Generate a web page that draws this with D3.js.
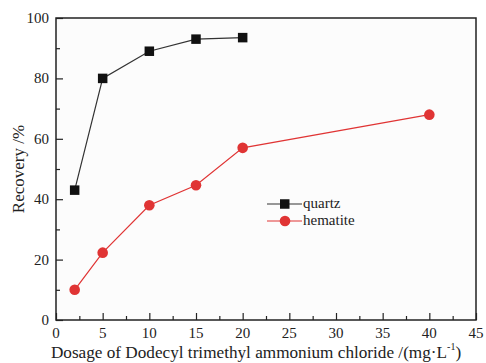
<!DOCTYPE html>
<html>
<head>
<meta charset="utf-8">
<script src="https://cdn.jsdelivr.net/npm/d3@7"></script>
<style>
body { margin: 0; background: #fff; }
svg { display: block; font-family: "Liberation Serif", "Times New Roman", serif; }
</style>
</head>
<body>
<svg width="486" height="363"></svg>
<script>
// data
var dosage = [2, 5, 10, 15, 20, 40];
var quartz = [43, 80, 89, 93, 93.5];
var hematite = [10, 22.3, 38, 44.6, 57, 68];
var xTicks = [0, 5, 10, 15, 20, 25, 30, 35, 40, 45];
var yTicks = [0, 20, 40, 60, 80, 100];

var svg = d3.select("svg");
var plotL = 56, plotR = 476, plotT = 18, plotB = 320;

var x = d3.scaleLinear().domain([0, 45]).range([plotL, plotR]);
var y = d3.scaleLinear().domain([0, 100]).range([plotB, plotT]);

// frame
svg.append("rect")
  .attr("x", plotL).attr("y", plotT)
  .attr("width", plotR - plotL).attr("height", plotB - plotT)
  .attr("fill", "#fcfcfc").attr("stroke", "#222").attr("stroke-width", 1.5);

// x axis, ticks pointing inward
var gx = svg.append("g").attr("transform", "translate(0," + plotB + ")");
gx.append("g").call(d3.axisTop(x).tickValues(d3.range(2.5, 45, 5)).tickSize(4).tickFormat(""));
gx.append("g").call(d3.axisTop(x).tickValues(xTicks).tickSize(7).tickFormat(""));
gx.selectAll(".domain").remove();
gx.selectAll("line").attr("stroke", "#222").attr("stroke-width", 1.2);
gx.selectAll(".xl").data(xTicks).enter().append("text")
  .attr("x", function(d) { return x(d); })
  .attr("y", 18)
  .attr("text-anchor", "middle")
  .attr("font-size", 15)
  .attr("fill", "#222")
  .text(function(d) { return d; });

// y axis, ticks pointing inward
var gy = svg.append("g").attr("transform", "translate(" + plotL + ",0)");
gy.append("g").call(d3.axisRight(y).tickValues(d3.range(10, 100, 20)).tickSize(4).tickFormat(""));
gy.append("g").call(d3.axisRight(y).tickValues(yTicks).tickSize(7).tickFormat(""));
gy.selectAll(".domain").remove();
gy.selectAll("line").attr("stroke", "#222").attr("stroke-width", 1.2);
gy.selectAll(".yl").data(yTicks).enter().append("text")
  .attr("x", -7)
  .attr("y", function(d) { return y(d) + 5; })
  .attr("text-anchor", "end")
  .attr("font-size", 15)
  .attr("fill", "#222")
  .text(function(d) { return d; });

// axis titles
var xt = svg.append("text")
  .attr("x", 256).attr("y", 358)
  .attr("text-anchor", "middle")
  .attr("font-size", 17.2)
  .attr("fill", "#222");
xt.append("tspan").text("Dosage of Dodecyl trimethyl ammonium chloride /(mg\u00b7L");
xt.append("tspan").attr("font-size", 10).attr("dy", -8).text("-1");
xt.append("tspan").attr("dy", 8).text(")");

svg.append("text")
  .attr("transform", "translate(24," + y(50) + ") rotate(-90)")
  .attr("text-anchor", "middle")
  .attr("font-size", 17)
  .attr("fill", "#222")
  .text("Recovery /%");

var line = d3.line()
  .x(function(d) { return x(d[0]); })
  .y(function(d) { return y(d[1]); });

var qData = quartz.map(function(v, i) { return [dosage[i], v]; });
var hData = hematite.map(function(v, i) { return [dosage[i], v]; });

var black = "#111", red = "#e03434";

svg.append("path").datum(qData).attr("d", line)
  .attr("fill", "none").attr("stroke", "#333").attr("stroke-width", 1.2);
svg.append("path").datum(hData).attr("d", line)
  .attr("fill", "none").attr("stroke", red).attr("stroke-width", 1.2);

svg.selectAll(".sq").data(qData).enter().append("rect")
  .attr("x", function(d) { return x(d[0]) - 4.75; })
  .attr("y", function(d) { return y(d[1]) - 4.75; })
  .attr("width", 9.5).attr("height", 9.5)
  .attr("fill", black);

svg.selectAll(".ci").data(hData).enter().append("circle")
  .attr("cx", function(d) { return x(d[0]); })
  .attr("cy", function(d) { return y(d[1]); })
  .attr("r", 5.3)
  .attr("fill", red);

// legend
var lg = svg.append("g").attr("transform", "translate(267,204)");
lg.append("line").attr("x1", 0).attr("x2", 35).attr("y1", 0).attr("y2", 0)
  .attr("stroke", "#333").attr("stroke-width", 1.2);
lg.append("rect").attr("x", 13).attr("y", -4.75).attr("width", 9.5).attr("height", 9.5).attr("fill", black);
lg.append("text").attr("x", 36).attr("y", 4).attr("font-size", 15).attr("fill", "#222").text("quartz");
lg.append("line").attr("x1", 0).attr("x2", 35).attr("y1", 17).attr("y2", 17)
  .attr("stroke", red).attr("stroke-width", 1.2);
lg.append("circle").attr("cx", 18).attr("cy", 17).attr("r", 5.3).attr("fill", red);
lg.append("text").attr("x", 36).attr("y", 21).attr("font-size", 15).attr("fill", "#222").text("hematite");
</script>
</body>
</html>
